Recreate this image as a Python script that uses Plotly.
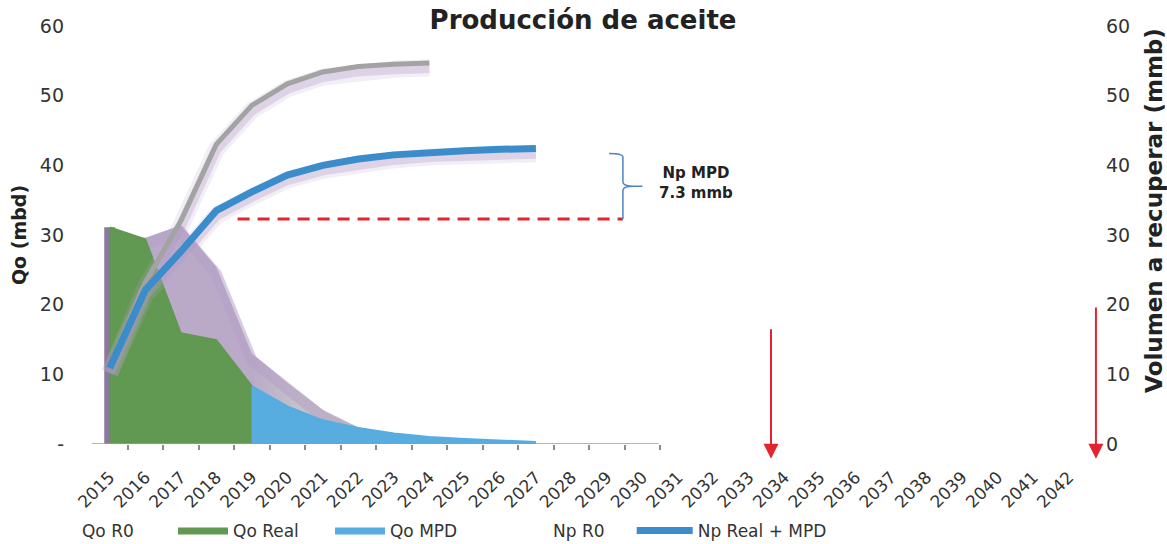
import plotly.graph_objects as go

# ---- data -------------------------------------------------------------
years = list(range(2015, 2043))
year_labels = [str(y) for y in years]

# Oil rate, Qo (mbd) - left axis
qo_r0_years = list(range(2015, 2025))
qo_r0 = [29.8, 29.6, 31.4, 25.4, 13.0, 8.8, 4.9, 2.4, 1.4, 0.9]
qo_real_years = [2015, 2016, 2017, 2018, 2019]
qo_real = [31.1, 29.4, 15.9, 14.9, 8.3]
qo_mpd_years = list(range(2019, 2028))
qo_mpd = [8.3, 5.4, 3.4, 2.3, 1.5, 1.0, 0.7, 0.45, 0.3]

# Cumulative production, Np (mmb) - right axis
np_r0_years = list(range(2015, 2025))
np_r0 = [10.9, 23.2, 32.0, 43.0, 48.6, 51.7, 53.4, 54.2, 54.5, 54.7]
np_mpd_years = list(range(2015, 2028))
np_mpd = [10.9, 22.1, 27.6, 33.5, 36.2, 38.6, 40.0, 40.9, 41.5, 41.9, 42.1, 42.3, 42.4]

y_ticks = [0, 10, 20, 30, 40, 50, 60]
y_left_labels = ["-", "10", "20", "30", "40", "50", "60"]
y_right_labels = [str(v) for v in y_ticks]

# annotation for the MPD volume
np_mpd_text = "Np MPD<br>7.3 mmb"
np_ref_level = 32.3        # dashed reference level
np_brace_top = 41.7
ref_line_years = (2018.6, 2029.45)
arrow_years = [2033.62, 2042.77]
arrow_tops = [16.7, 19.8]

# ---- styles -----------------------------------------------------------
FONT = "DejaVu Sans"
TXT = "#333333"
MAUVE = "#baaac8"
GREY_FILL = "#c5c3c8"
GREEN = "#619852"
LIGHT_BLUE = "#57ace0"
BLUE = "#3a8ccb"
GREY_LINE = "#a3a3a3"
RED = "#e3232f"

X_RANGE = [2014.5, 2042.8]
Y_RANGE = [0, 60]
SHADOW_SHIFT = 0.72   # ~5 px downward offset for soft shadows
GLOW_SHIFT = 1.0

fig = go.Figure()

# Qo R0 area (base layer)
fig.add_trace(go.Scatter(
    x=qo_r0_years, y=qo_r0, mode="lines", fill="tozeroy",
    line=dict(width=0, color=MAUVE), showlegend=False, hoverinfo="skip",
    fillgradient=dict(type="horizontal", start=2019.0, stop=2020.4,
                      colorscale=[[0, MAUVE], [1, GREY_FILL]]),
    xaxis="x", yaxis="y"))

# soft glow along the top of the Qo R0 area
fig.add_trace(go.Scatter(
    x=qo_r0_years, y=qo_r0, mode="lines",
    line=dict(width=11, color="rgba(180,160,198,0.55)"),
    showlegend=False, hoverinfo="skip", xaxis="x", yaxis="y2"))

# dark edge left of the real production
fig.add_trace(go.Scatter(
    x=[qo_real_years[0], qo_real_years[0]], y=[0, qo_real[0]], mode="lines",
    line=dict(width=11, color="rgba(118,96,140,0.85)"),
    showlegend=False, hoverinfo="skip", xaxis="x", yaxis="y3"))

fig.add_trace(go.Scatter(
    x=qo_real_years, y=qo_real, mode="lines", fill="tozeroy", name="Qo Real",
    line=dict(width=2, color=GREEN), fillcolor=GREEN, legend="legend2",
    xaxis="x", yaxis="y3"))

fig.add_trace(go.Scatter(
    x=qo_mpd_years, y=qo_mpd, mode="lines", fill="tozeroy", name="Qo MPD",
    line=dict(width=2, color=LIGHT_BLUE), fillcolor=LIGHT_BLUE, legend="legend3",
    xaxis="x", yaxis="y3"))

# shadows under the cumulative curves
for xs, ys in ((np_r0_years, np_r0), (np_mpd_years, np_mpd)):
    fig.add_trace(go.Scatter(
        x=xs, y=ys, mode="lines", line=dict(width=17, color="rgba(190,168,205,0.2)"),
        showlegend=False, hoverinfo="skip", xaxis="x", yaxis="y4"))
    fig.add_trace(go.Scatter(
        x=xs, y=ys, mode="lines", line=dict(width=10, color="rgba(175,150,195,0.3)"),
        showlegend=False, hoverinfo="skip", xaxis="x", yaxis="y4"))

fig.add_trace(go.Scatter(
    x=np_r0_years, y=np_r0, mode="lines", name="Np R0", showlegend=False,
    line=dict(width=5, color=GREY_LINE), xaxis="x", yaxis="y5"))
fig.add_trace(go.Scatter(
    x=np_mpd_years, y=np_mpd, mode="lines", name="Np Real + MPD",
    line=dict(width=7, color=BLUE), legend="legend5", xaxis="x", yaxis="y5"))

# legend labels for the R0 series (drawn without a key)
fig.add_trace(go.Scatter(x=[None], y=[None], mode="lines", name="Qo R0",
                         line=dict(width=0, color="rgba(0,0,0,0)"), legend="legend"))
fig.add_trace(go.Scatter(x=[None], y=[None], mode="lines", name="Np R0",
                         line=dict(width=0, color="rgba(0,0,0,0)"), legend="legend4"))

# ---- annotations ------------------------------------------------------
shapes = [
    # x axis baseline (visible section)
    dict(type="line", xref="x", yref="y", x0=X_RANGE[0], x1=2030.45, y0=0, y1=0,
         line=dict(color="#9a9a9a", width=1.5)),
    # dashed reference level
    dict(type="line", xref="x", yref="y5", x0=ref_line_years[0], x1=ref_line_years[1],
         y0=np_ref_level, y1=np_ref_level, line=dict(color=RED, width=3, dash="12px,8px")),
]
bx = ref_line_years[1]
bmid = (np_brace_top + np_ref_level) / 2
brace = (f"M {bx-0.39},{np_brace_top} Q {bx},{np_brace_top} {bx},{np_brace_top-0.5} "
         f"L {bx},{bmid+0.6} Q {bx},{bmid} {bx+0.3},{bmid} L {bx+0.55},{bmid} "
         f"M {bx+0.3},{bmid} Q {bx},{bmid} {bx},{bmid-0.6} L {bx},{np_ref_level}")
shapes.append(dict(type="path", xref="x", yref="y5", path=brace,
                   line=dict(color="#4f84c4", width=1.5)))

annotations = [
    dict(x=2031.5, y=bmid + 0.4, xref="x", yref="y5", text=np_mpd_text, showarrow=False,
         font=dict(family=FONT, size=15, color="#222222", weight="bold"), align="center"),
    dict(x=1.0567, y=0.56, xref="paper", yref="paper", xanchor="center", yanchor="middle",
         text="Volumen a recuperar (mmb)", textangle=-90, showarrow=False,
         font=dict(family=FONT, size=23, color="#222222", weight="bold")),
]
for ax_x, top in zip(arrow_years, arrow_tops):
    annotations.append(dict(x=ax_x, y=-2.1, ax=ax_x, ay=top, xref="x", yref="y5",
                            axref="x", ayref="y5", text="", showarrow=True,
                            arrowhead=2, arrowsize=1.5, arrowwidth=2, arrowcolor=RED))

hidden_y = dict(visible=False, overlaying="y", showgrid=False, zeroline=False)

def legend_at(x, itemwidth=50):
    return dict(orientation="h", x=x, y=-0.208, xanchor="left", yanchor="middle",
                itemwidth=itemwidth, bgcolor="rgba(0,0,0,0)",
                font=dict(family=FONT, size=17, color=TXT))

fig.update_layout(
    width=1167, height=544, autosize=False,
    margin=dict(l=92, r=70, t=26, b=100, autoexpand=False),
    paper_bgcolor="white", plot_bgcolor="white",
    font=dict(family=FONT, color=TXT),
    title=dict(text="Producción de aceite", x=0.4886, xref="paper", xanchor="center",
               y=1 - 20 / 544, yref="container", yanchor="middle",
               font=dict(family=FONT, size=26, color="#222222", weight="bold")),
    xaxis=dict(range=X_RANGE, tickmode="array", tickvals=years, ticktext=year_labels,
               tickangle=-45, ticks="", showgrid=False, zeroline=False, showline=False,
               tickfont=dict(family=FONT, size=17, color=TXT), ticklabelstandoff=19,
               minor=dict(tickvals=[y + 0.5 for y in years if y <= 2030], ticks="outside",
                          ticklen=5, tickwidth=1.5, tickcolor="#8a8a8a", showgrid=False)),
    yaxis=dict(range=Y_RANGE, tickmode="array", tickvals=y_ticks, ticktext=y_left_labels,
               showgrid=False, zeroline=False, showline=False, ticks="",
               tickfont=dict(family=FONT, size=19, color=TXT), ticklabelstandoff=27,
               title=dict(text="Qo (mbd)", standoff=8,
                          font=dict(family=FONT, size=19, color="#222222", weight="bold"))),
    yaxis2=dict(range=[Y_RANGE[0] + GLOW_SHIFT, Y_RANGE[1] + GLOW_SHIFT], **hidden_y),
    yaxis3=dict(range=Y_RANGE, **hidden_y),
    yaxis4=dict(range=[Y_RANGE[0] + SHADOW_SHIFT, Y_RANGE[1] + SHADOW_SHIFT], **hidden_y),
    yaxis5=dict(range=Y_RANGE, overlaying="y", side="right", tickmode="array",
                tickvals=y_ticks, ticktext=y_right_labels, showgrid=False, zeroline=False,
                showline=False, ticks="", ticklabelstandoff=8,
                tickfont=dict(family=FONT, size=19, color=TXT)),
    legend=legend_at(-0.0697),
    legend2=legend_at(0.0806),
    legend3=legend_at(0.2368),
    legend4=legend_at(0.399),
    legend5=legend_at(0.537, itemwidth=56),
    shapes=shapes,
    annotations=annotations,
)

fig.write_html("out.html")
